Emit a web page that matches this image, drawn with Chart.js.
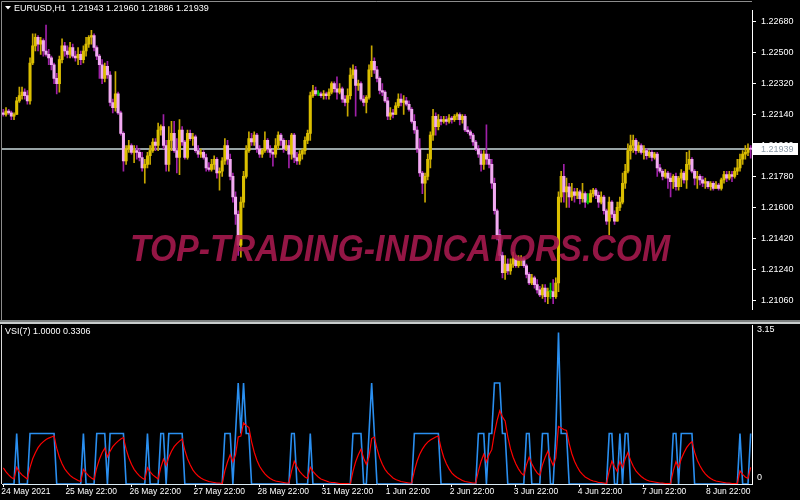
<!DOCTYPE html>
<html>
<head>
<meta charset="utf-8">
<script src="https://cdn.jsdelivr.net/npm/chart.js@4.4.0/dist/chart.umd.min.js"></script>
<style>
  body { margin: 0; background: #000; }
  #wrap { position: relative; width: 800px; height: 500px; background: #000; overflow: hidden; }
  canvas { position: absolute; left: 0; }
</style>
</head>
<body>
<div id="wrap">
  <canvas id="priceChart" width="800" height="320" style="top:0"></canvas>
  <canvas id="vsiChart" width="800" height="180" style="top:320px"></canvas>
</div>
<script>
// EURUSD H1, 24 May 2021 22:00 .. 9 Jun 2021 14:00 (281 bars)
const opens = [
  1.2215,1.2214,1.2216,1.2215,1.2213,1.2214,1.2222,1.2225,1.2227,1.2225,
  1.2222,1.2244,1.2254,1.2259,1.2255,1.2257,1.2251,1.2249,1.2247,1.2243,
  1.2235,1.2232,1.2246,1.2254,1.2251,1.2249,1.2253,1.2248,1.2247,1.2249,
  1.2246,1.2251,1.2255,1.2259,1.2260,1.2253,1.2248,1.2243,1.2235,1.2242,
  1.2237,1.2221,1.2218,1.2226,1.2215,1.2203,1.2187,1.2194,1.2196,1.2192,
  1.2193,1.2192,1.2189,1.2183,1.2185,1.2190,1.2193,1.2198,1.2196,1.2205,
  1.2207,1.2196,1.2185,1.2199,1.2203,1.2193,1.2189,1.2205,1.2198,1.2189,
  1.2203,1.2200,1.2201,1.2193,1.2191,1.2192,1.2189,1.2183,1.2182,1.2185,
  1.2188,1.2180,1.2181,1.2187,1.2196,1.2188,1.2178,1.2166,1.2156,1.2138,
  1.2163,1.2178,1.2193,1.2200,1.2198,1.2202,1.2194,1.2191,1.2193,1.2199,
  1.2194,1.2192,1.2191,1.2196,1.2202,1.2199,1.2194,1.2196,1.2191,1.2202,
  1.2189,1.2187,1.2191,1.2193,1.2199,1.2203,1.2225,1.2228,1.2226,1.2226,
  1.2225,1.2226,1.2225,1.2227,1.2232,1.2229,1.2227,1.2229,1.2223,1.2221,
  1.2225,1.2237,1.2240,1.2231,1.2232,1.2223,1.2221,1.2224,1.2240,1.2245,
  1.2240,1.2235,1.2228,1.2227,1.2222,1.2213,1.2215,1.2214,1.2219,1.2223,
  1.2221,1.2222,1.2220,1.2217,1.2210,1.2205,1.2194,1.2180,1.2174,1.2178,
  1.2188,1.2202,1.2213,1.2207,1.2211,1.2210,1.2211,1.2210,1.2212,1.2211,
  1.2213,1.2214,1.2211,1.2213,1.2205,1.2204,1.2202,1.2198,1.2194,1.2191,
  1.2185,1.2191,1.2188,1.2185,1.2174,1.2158,1.2144,1.2132,1.2122,1.2127,
  1.2123,1.2127,1.2130,1.2126,1.2129,1.2130,1.2126,1.2121,1.2116,1.2119,
  1.2115,1.2112,1.2109,1.2113,1.2108,1.2111,1.2111,1.2108,1.2116,1.2166,
  1.2178,1.2169,1.2172,1.2166,1.2169,1.2167,1.2169,1.2165,1.2168,1.2163,
  1.2163,1.2168,1.2170,1.2167,1.2163,1.2166,1.2158,1.2152,1.2163,1.2156,
  1.2152,1.2160,1.2163,1.2174,1.2181,1.2193,1.2196,1.2199,1.2193,1.2196,
  1.2192,1.2193,1.2190,1.2192,1.2189,1.2191,1.2183,1.2181,1.2178,1.2180,
  1.2177,1.2175,1.2178,1.2172,1.2177,1.2180,1.2176,1.2185,1.2188,1.2181,
  1.2177,1.2178,1.2176,1.2174,1.2175,1.2172,1.2174,1.2171,1.2173,1.2171,
  1.2176,1.2179,1.2177,1.2179,1.2178,1.2181,1.2183,1.2188,1.2191,1.2192,
  1.21943
];
const highs = [
  1.2217,1.2218,1.2217,1.2216,1.2215,1.2224,1.2230,1.2230,1.2229,1.2228,
  1.2247,1.2261,1.2261,1.2260,1.2259,1.2258,1.2266,1.2252,1.2248,1.2244,
  1.2238,1.2248,1.2258,1.2256,1.2254,1.2256,1.2255,1.2251,1.2253,1.2251,
  1.2254,1.2259,1.2260,1.2263,1.2261,1.2254,1.2249,1.2246,1.2244,1.2245,
  1.2239,1.2223,1.2239,1.2227,1.2216,1.2204,1.2196,1.2199,1.2197,1.2196,
  1.2196,1.2194,1.2192,1.2188,1.2192,1.2196,1.2200,1.2200,1.2209,1.2208,
  1.2214,1.2199,1.2207,1.2210,1.2210,1.2200,1.2211,1.2207,1.2199,1.2205,
  1.2205,1.2203,1.2202,1.2196,1.2194,1.2193,1.2191,1.2186,1.2188,1.2190,
  1.2189,1.2183,1.2189,1.2200,1.2199,1.2191,1.2180,1.2169,1.2158,1.2166,
  1.2181,1.2196,1.2204,1.2203,1.2204,1.2203,1.2196,1.2194,1.2204,1.2200,
  1.2196,1.2193,1.2200,1.2204,1.2203,1.2200,1.2199,1.2199,1.2203,1.2203,
  1.2192,1.2193,1.2194,1.2201,1.2205,1.2227,1.2231,1.2230,1.2228,1.2227,
  1.2228,1.2227,1.2229,1.2233,1.2233,1.2236,1.2232,1.2230,1.2225,1.2229,
  1.2241,1.2243,1.2242,1.2234,1.2233,1.2225,1.2225,1.2243,1.2254,1.2247,
  1.2242,1.2236,1.2232,1.2228,1.2224,1.2218,1.2217,1.2221,1.2226,1.2226,
  1.2225,1.2224,1.2222,1.2218,1.2214,1.2207,1.2200,1.2181,1.2180,1.2191,
  1.2204,1.2217,1.2215,1.2214,1.2213,1.2213,1.2213,1.2214,1.2213,1.2214,
  1.2215,1.2215,1.2214,1.2214,1.2207,1.2205,1.2203,1.2199,1.2196,1.2193,
  1.2193,1.2208,1.2191,1.2188,1.2177,1.2159,1.2147,1.2134,1.2132,1.2130,
  1.2130,1.2134,1.2132,1.2132,1.2132,1.2131,1.2127,1.2122,1.2121,1.2120,
  1.2118,1.2114,1.2115,1.2115,1.2113,1.2116,1.2118,1.2119,1.2169,1.2181,
  1.2185,1.2177,1.2174,1.2174,1.2171,1.2171,1.2170,1.2174,1.2169,1.2168,
  1.2170,1.2171,1.2171,1.2169,1.2169,1.2167,1.2159,1.2166,1.2164,1.2158,
  1.2163,1.2166,1.2180,1.2185,1.2197,1.2202,1.2202,1.2200,1.2198,1.2197,
  1.2196,1.2194,1.2193,1.2193,1.2192,1.2192,1.2185,1.2182,1.2182,1.2181,
  1.2180,1.2179,1.2180,1.2178,1.2182,1.2181,1.2192,1.2193,1.2189,1.2182,
  1.2181,1.2179,1.2178,1.2177,1.2175,1.2175,1.2175,1.2175,1.2174,1.2177,
  1.2181,1.2181,1.2181,1.2181,1.2183,1.2188,1.2191,1.2193,1.2196,1.2197,
  1.21960
];
const lows = [
  1.2213,1.2213,1.2214,1.2211,1.2211,1.2214,1.2221,1.2223,1.2223,1.2220,
  1.2220,1.2243,1.2251,1.2251,1.2249,1.2248,1.2248,1.2243,1.2240,1.2232,
  1.2226,1.2227,1.2244,1.2248,1.2247,1.2247,1.2247,1.2245,1.2243,1.2243,
  1.2244,1.2248,1.2253,1.2255,1.2251,1.2246,1.2235,1.2232,1.2233,1.2235,
  1.2219,1.2215,1.2216,1.2214,1.2202,1.2181,1.2185,1.2192,1.2191,1.2186,
  1.2188,1.2187,1.2181,1.2174,1.2183,1.2185,1.2192,1.2193,1.2193,1.2202,
  1.2194,1.2181,1.2181,1.2193,1.2192,1.2180,1.2179,1.2196,1.2188,1.2188,
  1.2199,1.2196,1.2192,1.2189,1.2189,1.2188,1.2181,1.2181,1.2181,1.2182,
  1.2177,1.2170,1.2178,1.2185,1.2185,1.2176,1.2163,1.2150,1.2132,1.2131,
  1.2160,1.2177,1.2192,1.2196,1.2196,1.2192,1.2189,1.2189,1.2192,1.2192,
  1.2189,1.2184,1.2189,1.2194,1.2196,1.2192,1.2193,1.2183,1.2188,1.2186,
  1.2185,1.2185,1.2188,1.2191,1.2197,1.2199,1.2224,1.2225,1.2225,1.2224,
  1.2223,1.2223,1.2223,1.2226,1.2227,1.2223,1.2226,1.2221,1.2219,1.2213,
  1.2223,1.2235,1.2213,1.2228,1.2222,1.2219,1.2215,1.2223,1.2236,1.2238,
  1.2233,1.2226,1.2225,1.2221,1.2211,1.2211,1.2212,1.2214,1.2218,1.2219,
  1.2214,1.2219,1.2216,1.2209,1.2203,1.2192,1.2178,1.2168,1.2163,1.2176,
  1.2183,1.2199,1.2202,1.2205,1.2208,1.2209,1.2208,1.2209,1.2209,1.2210,
  1.2211,1.2208,1.2209,1.2204,1.2203,1.2200,1.2196,1.2193,1.2189,1.2181,
  1.2182,1.2185,1.2183,1.2171,1.2156,1.2141,1.2129,1.2119,1.2118,1.2121,
  1.2121,1.2125,1.2125,1.2125,1.2126,1.2125,1.2119,1.2115,1.2115,1.2113,
  1.2110,1.2108,1.2107,1.2105,1.2104,1.2107,1.2104,1.2107,1.2111,1.2163,
  1.2163,1.2160,1.2160,1.2164,1.2163,1.2165,1.2162,1.2163,1.2160,1.2162,
  1.2163,1.2166,1.2165,1.2160,1.2162,1.2156,1.2150,1.2144,1.2154,1.2150,
  1.2152,1.2158,1.2162,1.2171,1.2180,1.2188,1.2192,1.2191,1.2192,1.2191,
  1.2188,1.2188,1.2189,1.2187,1.2188,1.2178,1.2180,1.2176,1.2177,1.2171,
  1.2166,1.2171,1.2170,1.2170,1.2172,1.2174,1.2171,1.2182,1.2180,1.2173,
  1.2171,1.2173,1.2172,1.2171,1.2171,1.2170,1.2170,1.2171,1.2170,1.2170,
  1.2174,1.2175,1.2176,1.2175,1.2177,1.2179,1.2181,1.2185,1.2188,1.2190,
  1.21886
];
const closes = [
  1.2214,1.2216,1.2215,1.2213,1.2214,1.2222,1.2225,1.2227,1.2225,1.2222,
  1.2244,1.2254,1.2259,1.2255,1.2257,1.2251,1.2249,1.2247,1.2243,1.2235,
  1.2232,1.2246,1.2254,1.2251,1.2249,1.2253,1.2248,1.2247,1.2249,1.2246,
  1.2251,1.2255,1.2259,1.2260,1.2253,1.2248,1.2243,1.2235,1.2242,1.2237,
  1.2221,1.2218,1.2226,1.2215,1.2203,1.2187,1.2194,1.2196,1.2192,1.2193,
  1.2192,1.2189,1.2183,1.2185,1.2190,1.2193,1.2198,1.2196,1.2205,1.2207,
  1.2196,1.2185,1.2199,1.2203,1.2193,1.2189,1.2205,1.2198,1.2189,1.2203,
  1.2200,1.2201,1.2193,1.2191,1.2192,1.2189,1.2183,1.2182,1.2185,1.2188,
  1.2180,1.2181,1.2187,1.2196,1.2188,1.2178,1.2166,1.2156,1.2138,1.2163,
  1.2178,1.2193,1.2200,1.2198,1.2202,1.2194,1.2191,1.2193,1.2199,1.2194,
  1.2192,1.2191,1.2196,1.2202,1.2199,1.2194,1.2196,1.2191,1.2202,1.2189,
  1.2187,1.2191,1.2193,1.2199,1.2203,1.2225,1.2228,1.2226,1.2226,1.2225,
  1.2226,1.2225,1.2227,1.2232,1.2229,1.2227,1.2229,1.2223,1.2221,1.2225,
  1.2237,1.2240,1.2231,1.2232,1.2223,1.2221,1.2224,1.2240,1.2245,1.2240,
  1.2235,1.2228,1.2227,1.2222,1.2213,1.2215,1.2214,1.2219,1.2223,1.2221,
  1.2222,1.2220,1.2217,1.2210,1.2205,1.2194,1.2180,1.2174,1.2178,1.2188,
  1.2202,1.2213,1.2207,1.2211,1.2210,1.2211,1.2210,1.2212,1.2211,1.2213,
  1.2214,1.2211,1.2213,1.2205,1.2204,1.2202,1.2198,1.2194,1.2191,1.2185,
  1.2191,1.2188,1.2185,1.2174,1.2158,1.2144,1.2132,1.2122,1.2127,1.2123,
  1.2127,1.2130,1.2126,1.2129,1.2130,1.2126,1.2121,1.2116,1.2119,1.2115,
  1.2112,1.2109,1.2113,1.2108,1.2111,1.2111,1.2108,1.2116,1.2166,1.2178,
  1.2169,1.2172,1.2166,1.2169,1.2167,1.2169,1.2165,1.2168,1.2163,1.2163,
  1.2168,1.2170,1.2167,1.2163,1.2166,1.2158,1.2152,1.2163,1.2156,1.2152,
  1.2160,1.2163,1.2174,1.2181,1.2193,1.2196,1.2199,1.2193,1.2196,1.2192,
  1.2193,1.2190,1.2192,1.2189,1.2191,1.2183,1.2181,1.2178,1.2180,1.2177,
  1.2175,1.2178,1.2172,1.2177,1.2180,1.2176,1.2185,1.2188,1.2181,1.2177,
  1.2178,1.2176,1.2174,1.2175,1.2172,1.2174,1.2171,1.2173,1.2171,1.2176,
  1.2179,1.2177,1.2179,1.2178,1.2181,1.2183,1.2188,1.2191,1.2192,1.21943,
  1.21939
];

// VSI(7): main line (blue) and its signal (red)
const vsiMain = [
  0,0,0,0,0,1,0,0,0,0, 1,1,1,1,1,1,1,1,1,1, 0,0,0,0,0,0,0,0,0,0,
  1,0,0,0,0,1,1,1,1,0, 1,1,1,1,1,1,0,0,0,0, 0,0,0,0,1,0,0,0,0,1,
  1,0,1,1,1,1,1,1,0,0, 0,0,0,0,0,0,0,0,0,0, 0,0,0,1,1,1,0,1,2,1,
  2,1,1,0,0,0,0,0,0,0, 0,0,0,0,0,0,0,0,1,1, 0,0,0,0,0,1,0,0,0,0,
  0,0,0,0,0,0,0,0,0,0, 0,1,1,1,1,0,0,1,2,1, 0,0,0,0,0,0,0,0,0,0,
  0,0,0,0,1,1,1,1,1,1, 1,1,1,1,0,0,0,0,0,0, 0,0,0,0,0,0,0,0,1,1,
  1,0,1,1,2,2,2,1,1,0, 0,0,0,0,0,0,1,1,0,0, 0,0,1,1,1,0,0,1,3,1,
  1,1,0,0,0,0,0,0,0,0, 0,0,0,0,0,0,0,1,1,0, 0,1,0,1,1,0,0,0,0,0,
  0,0,0,0,0,0,0,0,0,0, 0,1,1,0,1,1,1,1,1,0, 0,0,0,0,0,0,0,0,0,0,
  0,0,0,0,0,0,1,0,0,0, 1
];
const vsiSignal = [
  .32,.24,.18,.13,.10,.33,.24,.18,.14,.10, .33,.50,.62,.72,.79,.84,.88,.91,.93,.95,
  .71,.53,.40,.30,.23,.17,.13,.10,.07,.05, .29,.22,.16,.12,.09,.32,.49,.62,.71,.54,
  .65,.74,.80,.85,.89,.92,.69,.52,.39,.29, .22,.16,.12,.09,.32,.24,.18,.14,.10,.33,
  .49,.37,.53,.65,.74,.80,.85,.89,.67,.50, .38,.28,.21,.16,.12,.09,.07,.05,.04,.03,
  .02,.02,.01,.26,.44,.58,.44,.58,.93,.95, 1.21,1.16,1.12,.84,.63,.47,.35,.27,.20,.15,
  .11,.08,.06,.05,.04,.03,.02,.02,.26,.45, .34,.25,.19,.14,.11,.33,.25,.19,.14,.10,
  .08,.06,.04,.03,.03,.02,.01,.01,.01,.01, 0,.25,.44,.58,.69,.51,.39,.54,.90,.93,
  .70,.52,.39,.29,.22,.17,.12,.09,.07,.05, .04,.03,.02,.02,.26,.45,.59,.69,.77,.83,
  .87,.90,.93,.95,.71,.53,.40,.30,.22,.17, .13,.10,.07,.05,.04,.03,.02,.02,.26,.45,
  .59,.44,.58,.68,1.01,1.26,1.45,1.33,1.25,.94, .70,.53,.40,.30,.22,.17,.38,.53,.40,.30,
  .22,.17,.38,.53,.65,.49,.37,.52,1.14,1.11, 1.08,1.06,.80,.60,.45,.34,.25,.19,.14,.11,
  .08,.06,.05,.03,.03,.02,.01,.26,.45,.34, .25,.44,.33,.50,.62,.47,.35,.26,.20,.15,
  .11,.08,.06,.05,.04,.03,.02,.02,.01,.01, .01,.26,.44,.33,.50,.62,.72,.79,.84,.63,
  .47,.36,.27,.20,.15,.11,.08,.06,.05,.04, .03,.02,.02,.01,.01,.01,.26,.19,.14,.11,
  .3306
];

const priceTicks = [1.2106, 1.2124, 1.2142, 1.2160, 1.2178, 1.2196, 1.2214, 1.2232, 1.2250, 1.2268];
const vsiTicks = [0, 3.15];
const dateTickIndex = [0, 24, 48, 72, 96, 120, 144, 168, 192, 216, 240, 264];
const dateTickText = ['24 May 2021', '25 May 22:00', '26 May 22:00', '27 May 22:00', '28 May 22:00',
  '31 May 22:00', '1 Jun 22:00', '2 Jun 22:00', '3 Jun 22:00', '4 Jun 22:00', '7 Jun 22:00', '8 Jun 22:00'];
const bidPrice = 1.21939;

const FONT = '"Liberation Sans", Arial, sans-serif';
const bullBody = '#dcc000', bullWick = '#c8a800';
const bearBody = '#f2aaf2', bearWick = '#a020a8';
const dojiColor = '#00cc00';

const barIndex = closes.map((c, i) => i);
const bodyColors = opens.map((o, i) => o === closes[i] ? dojiColor : closes[i] > o ? bullBody : bearBody);
const wickColors = opens.map((o, i) => o === closes[i] ? dojiColor : closes[i] > o ? bullWick : bearWick);

const priceOverlay = {
  id: 'priceOverlay',
  beforeDatasetsDraw(chart) {
    const { ctx, chartArea: a, scales: { y } } = chart;
    const py = Math.round(y.getPixelForValue(bidPrice));
    ctx.save();
    ctx.fillStyle = '#97a3a5';
    ctx.fillRect(a.left, py - 1, a.right - a.left, 2);
    ctx.restore();
  },
  afterDraw(chart) {
    const { ctx, chartArea: a, scales: { y } } = chart;
    ctx.save();
    // frame
    ctx.strokeStyle = '#8c8c8c';
    ctx.lineWidth = 1;
    ctx.beginPath();
    ctx.moveTo(1.5, 320); ctx.lineTo(1.5, 1.5); ctx.lineTo(a.right, 1.5);
    ctx.stroke();

    // watermark
    ctx.font = 'bold italic 36px ' + FONT;
    const txt = 'TOP-TRADING-INDICATORS.COM';
    const w = ctx.measureText(txt).width;
    ctx.translate(400, 261);
    ctx.scale(540 / w, 1);
    ctx.fillStyle = 'rgba(172, 26, 80, 0.86)';
    ctx.textAlign = 'center';
    ctx.textBaseline = 'alphabetic';
    ctx.fillText(txt, 0, 0);
    ctx.setTransform(1, 0, 0, 1, 0, 0);

    // header
    ctx.fillStyle = '#fff';
    ctx.beginPath();
    ctx.moveTo(5, 6); ctx.lineTo(11, 6); ctx.lineTo(8, 9.5); ctx.closePath();
    ctx.fill();
    ctx.font = '9px ' + FONT;
    ctx.textAlign = 'left';
    ctx.textBaseline = 'middle';
    ctx.fillText('EURUSD,H1  1.21943 1.21960 1.21886 1.21939', 14, 8.5);

    // bid price box
    const py = Math.round(y.getPixelForValue(bidPrice));
    ctx.fillStyle = '#ffffff';
    ctx.fillRect(a.right + 1, py - 6, 45, 12);
    ctx.fillStyle = '#8a98a6';
    ctx.fillText(bidPrice.toFixed(5), a.right + 9, py + 0.5);
    ctx.restore();
  }
};

new Chart(document.getElementById('priceChart'), {
  type: 'bar',
  data: {
    labels: barIndex,
    datasets: [
      { label: 'body', data: opens.map((o, i) => [o, closes[i]]), backgroundColor: bodyColors,
        barThickness: 2.4, minBarLength: 1, grouped: false, order: 1, borderWidth: 0 },
      { label: 'wick', data: lows.map((l, i) => [l, highs[i]]), backgroundColor: wickColors,
        barThickness: 1, grouped: false, order: 2, borderWidth: 0 }
    ]
  },
  options: {
    responsive: false,
    animation: false,
    devicePixelRatio: 1,
    layout: { padding: { left: 2, top: 2, right: 0, bottom: 1 } },
    plugins: { legend: { display: false }, tooltip: { enabled: false } },
    scales: {
      x: { display: false, offset: true },
      y: {
        position: 'right',
        min: 1.21005,
        max: 1.22746,
        afterBuildTicks: s => { s.ticks = priceTicks.map(v => ({ value: v })); },
        afterFit: s => { s.width = 48; },
        ticks: { color: '#fff', font: { family: FONT, size: 9 }, padding: 5, callback: v => v.toFixed(5) },
        grid: { drawOnChartArea: false, color: '#fff', tickLength: 4 },
        border: { color: '#fff' }
      }
    }
  },
  plugins: [priceOverlay]
});

const vsiOverlay = {
  id: 'vsiOverlay',
  afterDraw(chart) {
    const { ctx, chartArea: a, scales: { y } } = chart;
    ctx.save();
    // separator between panes
    ctx.fillStyle = '#7c8080';
    ctx.fillRect(0, 0, 800, 2);
    ctx.fillStyle = '#c8cccc';
    ctx.fillRect(0, 2, 800, 2);
    // left frame
    ctx.fillStyle = '#d8d8d8';
    ctx.fillRect(1, a.top, 1, a.bottom - a.top);
    ctx.fillStyle = '#fff';
    ctx.font = '9px ' + FONT;
    ctx.textBaseline = 'middle';
    ctx.textAlign = 'left';
    ctx.fillText('VSI(7) 1.0000 0.3306', 5, 11.5);
    ctx.fillText(vsiTicks[1].toFixed(2), a.right + 5, y.getPixelForValue(vsiTicks[1]) + 5);
    ctx.fillText(String(vsiTicks[0]), a.right + 5, y.getPixelForValue(vsiTicks[0]) - 6);
    ctx.restore();
  }
};

new Chart(document.getElementById('vsiChart'), {
  type: 'line',
  data: {
    labels: barIndex,
    datasets: [
      { label: 'signal', data: vsiSignal, borderColor: '#ff0000', borderWidth: 1.2, pointRadius: 0, tension: 0, order: 1 },
      { label: 'VSI', data: vsiMain, borderColor: '#2a8ff0', borderWidth: 1.6, pointRadius: 0, tension: 0, order: 2 }
    ]
  },
  options: {
    responsive: false,
    animation: false,
    devicePixelRatio: 1,
    layout: { padding: { left: 2, top: 5, right: 0, bottom: 0 } },
    plugins: { legend: { display: false }, tooltip: { enabled: false } },
    scales: {
      x: {
        offset: true,
        afterFit: s => { s.height = 16; },
        ticks: {
          autoSkip: false, maxRotation: 0, align: 'start', labelOffset: -2, padding: 0,
          color: '#fff', font: { family: FONT, size: 8.5 },
          callback: (v, i) => { const k = dateTickIndex.indexOf(i); return k < 0 ? '' : dateTickText[k]; }
        },
        grid: {
          drawOnChartArea: false, offset: false, tickLength: 3,
          color: c => (c.tick && c.tick.label) ? '#fff' : 'rgba(0,0,0,0)'
        },
        border: { color: '#dcecf4' }
      },
      y: {
        position: 'right',
        min: 0,
        max: 3.15,
        afterFit: s => { s.width = 48; },
        ticks: { display: false },
        grid: { display: false },
        border: { color: '#fff' }
      }
    }
  },
  plugins: [vsiOverlay]
});
</script>
</body>
</html>
